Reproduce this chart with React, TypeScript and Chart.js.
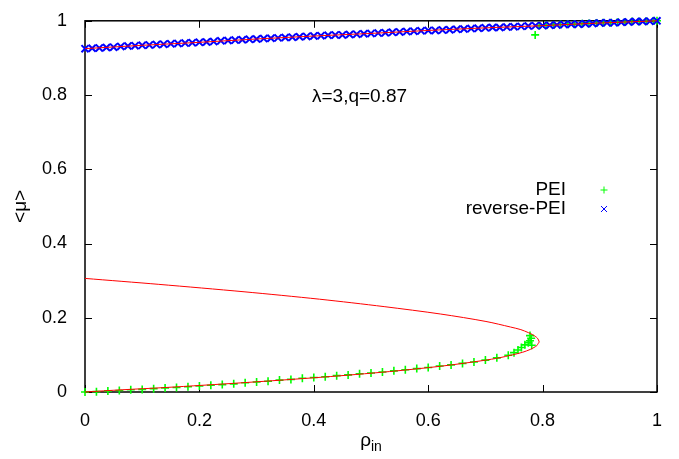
import React, { useEffect, useRef } from "react";
import { Chart, registerables } from "chart.js";
Chart.register(...registerables);

const FONT = '"Liberation Sans", Arial, Helvetica, sans-serif';

const tickValues = [0, 0.2, 0.4, 0.6, 0.8, 1];
const tickLabels = ["0", "0.2", "0.4", "0.6", "0.8", "1"];

// reverse-PEI (blue x) on the upper branch
const revPeiX = [0,0.0125,0.025,0.0375,0.05,0.0625,0.075,0.0875,0.1,0.1125,0.125,0.1375,0.15,0.1625,0.175,0.1875,0.2,0.2125,0.225,0.2375,0.25,0.2625,0.275,0.2875,0.3,0.3125,0.325,0.3375,0.35,0.3625,0.375,0.3875,0.4,0.4125,0.425,0.4375,0.45,0.4625,0.475,0.4875,0.5,0.5125,0.525,0.5375,0.55,0.5625,0.575,0.5875,0.6,0.6125,0.625,0.6375,0.65,0.6625,0.675,0.6875,0.7,0.7125,0.725,0.7375,0.75,0.7625,0.775,0.7875,0.8,0.8125,0.825,0.8375,0.85,0.8625,0.875,0.8875,0.9,0.9125,0.925,0.9375,0.95,0.9625,0.975,0.9875,1];
const revPeiY = [0.925,0.926,0.927,0.928,0.929,0.931,0.932,0.933,0.934,0.935,0.936,0.937,0.938,0.939,0.940,0.941,0.942,0.943,0.944,0.946,0.947,0.948,0.949,0.950,0.951,0.952,0.953,0.954,0.955,0.956,0.957,0.958,0.959,0.960,0.961,0.962,0.962,0.963,0.964,0.965,0.966,0.967,0.968,0.969,0.970,0.971,0.972,0.973,0.974,0.974,0.975,0.976,0.977,0.978,0.979,0.980,0.981,0.982,0.982,0.983,0.984,0.985,0.986,0.987,0.987,0.988,0.989,0.990,0.991,0.991,0.992,0.993,0.994,0.995,0.995,0.996,0.997,0.998,0.998,0.999,1.000];

// PEI (green +): lower branch, cluster near the turning point, jump, upper branch
const peiLowerX = [0,0.02,0.04,0.06,0.08,0.1,0.12,0.14,0.16,0.18,0.2,0.22,0.24,0.26,0.28,0.3,0.32,0.34,0.36,0.38,0.4,0.42,0.44,0.46,0.48,0.5,0.52,0.54,0.56,0.58,0.6,0.62,0.64,0.66,0.68,0.7,0.72,0.74];
const peiLowerY = [0.000,0.001,0.003,0.004,0.006,0.007,0.009,0.011,0.012,0.014,0.016,0.018,0.020,0.022,0.025,0.027,0.029,0.032,0.034,0.037,0.039,0.041,0.044,0.046,0.049,0.051,0.054,0.057,0.060,0.063,0.066,0.070,0.073,0.077,0.081,0.086,0.092,0.099];
const peiTurnX = [0.75,0.757,0.763,0.769,0.775,0.781,0.778,0.78,0.778,0.787];
const peiTurnY = [0.106,0.113,0.120,0.127,0.133,0.126,0.138,0.145,0.152,0.962];
const peiUpperX = [0.794,0.806,0.819,0.831,0.844,0.856,0.869,0.881,0.894,0.906,0.919,0.931,0.944,0.956,0.969,0.981,0.994,1.0];
const peiUpperY = [0.987,0.988,0.989,0.990,0.991,0.991,0.992,0.993,0.994,0.995,0.995,0.996,0.997,0.998,0.998,0.999,1.000,1.000];

// theory curve (red)
const theoryUpperX = [0,0.1,0.2,0.3,0.4,0.5,0.6,0.7,0.8,0.9,1];
const theoryUpperY = [0.925,0.934,0.942,0.951,0.959,0.966,0.974,0.981,0.987,0.994,1.0];
const theoryLoopX = [0,0.129,0.278,0.41,0.523,0.622,0.701,0.744,0.762,0.775,0.782,0.787,0.791,0.794,0.792,0.79,0.785,0.779,0.765,0.747,0.724,0.697,0.625,0.532,0.415,0.276,0.14,0.065,0];
const theoryLoopY = [0.306,0.29,0.27,0.25,0.23,0.21,0.19,0.175,0.168,0.16,0.155,0.15,0.145,0.135,0.13,0.125,0.12,0.115,0.107,0.1,0.092,0.085,0.07,0.055,0.04,0.025,0.012,0.006,0.0];

const annotation = "λ=3,q=0.87";
const legendLabels = ["PEI", "reverse-PEI"];

const pts = (xs: number[], ys: number[]) => xs.map((x, i) => ({ x, y: ys[i] }));

export default function App() {
  const ref = useRef<HTMLCanvasElement>(null);
  useEffect(() => {
    const canvas = ref.current!;
    const frame = {
      id: "frame",
      beforeDatasetsDraw(chart: any) {
        const { ctx, chartArea: a, scales } = chart;
        ctx.save();
        ctx.strokeStyle = "#000";
        ctx.lineWidth = 1;
        const tl = 7;
        ctx.beginPath();
        for (const v of tickValues) {
          const px = Math.round(scales.x.getPixelForValue(v)) + 0.5;
          ctx.moveTo(px, a.bottom); ctx.lineTo(px, a.bottom - tl);
          ctx.moveTo(px, a.top); ctx.lineTo(px, a.top + tl);
          const py = Math.round(scales.y.getPixelForValue(v)) + 0.5;
          ctx.moveTo(a.left, py); ctx.lineTo(a.left + tl, py);
          ctx.moveTo(a.right, py); ctx.lineTo(a.right - tl, py);
        }
        ctx.stroke();
        ctx.lineWidth = 1.5;
        ctx.strokeRect(a.left, a.top, a.right - a.left, a.bottom - a.top);
        ctx.restore();
      },
      afterDraw(chart: any) {
        const { ctx, chartArea: a, scales } = chart;
        ctx.save();
        ctx.fillStyle = "#000";
        // annotation
        ctx.font = `19px ${FONT}`;
        ctx.textAlign = "center";
        ctx.textBaseline = "middle";
        ctx.fillText(annotation, scales.x.getPixelForValue(0.48), scales.y.getPixelForValue(0.795));
        // legend
        ctx.textAlign = "right";
        const lx = a.left + 481;
        const mx = a.left + 519;
        const ly0 = 190, ly1 = 209;
        ctx.fillText(legendLabels[0], lx, ly0);
        ctx.fillText(legendLabels[1], lx, ly1);
        ctx.lineWidth = 1;
        ctx.strokeStyle = "#00ff00";
        ctx.beginPath();
        ctx.moveTo(mx - 3.5, ly0); ctx.lineTo(mx + 3.5, ly0);
        ctx.moveTo(mx, ly0 - 3.5); ctx.lineTo(mx, ly0 + 3.5);
        ctx.stroke();
        ctx.strokeStyle = "#0000ff";
        ctx.beginPath();
        ctx.moveTo(mx - 3, ly1 - 3); ctx.lineTo(mx + 3, ly1 + 3);
        ctx.moveTo(mx - 3, ly1 + 3); ctx.lineTo(mx + 3, ly1 - 3);
        ctx.stroke();
        // y title
        ctx.fillStyle = "#000";
        ctx.save();
        ctx.translate(21, (a.top + a.bottom) / 2);
        ctx.rotate(-Math.PI / 2);
        ctx.textAlign = "center";
        ctx.font = `19px ${FONT}`;
        ctx.fillText("<μ>", 0, 0);
        ctx.restore();
        // x title rho_in
        ctx.textAlign = "left";
        ctx.font = `19px ${FONT}`;
        const cx = (a.left + a.right) / 2;
        const wr = ctx.measureText("ρ").width;
        ctx.font = `14px ${FONT}`;
        const wi = ctx.measureText("in").width;
        const start = cx - (wr + wi) / 2;
        ctx.font = `19px ${FONT}`;
        ctx.fillText("ρ", start, 441);
        ctx.font = `14px ${FONT}`;
        ctx.fillText("in", start + wr, 447);
        ctx.restore();
      },
    };

    const fmt = (v: any) => {
      const i = tickValues.findIndex((t) => Math.abs(t - Number(v)) < 1e-9);
      return i >= 0 ? tickLabels[i] : "";
    };

    const chart = new Chart(canvas, {
      type: "scatter",
      data: {
        datasets: [
          {
            label: "theory-loop",
            data: pts(theoryLoopX, theoryLoopY),
            showLine: true,
            borderColor: "#ff0000",
            borderWidth: 1,
            pointRadius: 0,
            tension: 0.3,
            clip: false,
          } as any,
          {
            label: "theory-upper",
            data: pts(theoryUpperX, theoryUpperY),
            showLine: true,
            borderColor: "#ff0000",
            borderWidth: 1,
            pointRadius: 0,
            tension: 0,
            clip: false,
          },
          {
            label: legendLabels[1],
            data: pts(revPeiX, revPeiY),
            pointStyle: "crossRot",
            pointRadius: 5,
            borderColor: "#0000ff",
            backgroundColor: "#0000ff",
            borderWidth: 2,
            clip: false,
          },
          {
            label: legendLabels[0],
            data: [...pts(peiLowerX, peiLowerY), ...pts(peiTurnX, peiTurnY), ...pts(peiUpperX, peiUpperY)],
            pointStyle: "cross",
            pointRadius: 4,
            borderColor: "#00ff00",
            backgroundColor: "#00ff00",
            borderWidth: 1.6,
            clip: false,
          },
        ],
      },
      options: {
        responsive: false,
        animation: false,
        devicePixelRatio: 1,
        layout: { padding: { top: 6, right: 22, left: 0, bottom: 0 } },
        plugins: { legend: { display: false }, tooltip: { enabled: false } },
        scales: {
          x: {
            type: "linear",
            min: 0,
            max: 1,
            grid: { display: false },
            border: { display: false },
            afterBuildTicks: (s: any) => { s.ticks = tickValues.map((v) => ({ value: v })); },
            afterFit: (s: any) => { s.height = 67; },
            ticks: { color: "#000", padding: 10, font: { family: FONT, size: 18 }, maxRotation: 0, callback: fmt },
          },
          y: {
            type: "linear",
            min: 0,
            max: 1,
            grid: { display: false },
            border: { display: false },
            afterBuildTicks: (s: any) => { s.ticks = tickValues.map((v) => ({ value: v })); },
            afterFit: (s: any) => { s.width = 85; },
            ticks: { color: "#000", padding: 10, font: { family: FONT, size: 18 }, callback: fmt },
          },
        },
      },
      plugins: [frame],
    });
    return () => chart.destroy();
  }, []);
  return (
    <div style={{ position: "absolute", left: 0, top: 0, width: 679, height: 459, background: "#fff" }}>
      <canvas ref={ref} width={679} height={459} />
    </div>
  );
}
